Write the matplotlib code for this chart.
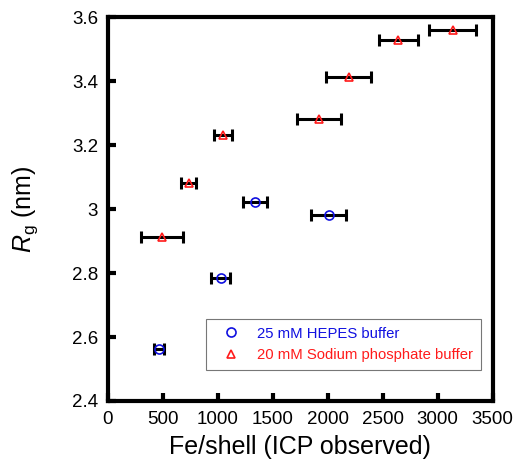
import numpy as np
import matplotlib

matplotlib.use("Agg")
import matplotlib.pyplot as plt
from matplotlib.ticker import FuncFormatter

plt.rcParams["font.family"] = ["Liberation Sans", "DejaVu Sans"]
plt.rcParams["mathtext.fontset"] = "custom"
plt.rcParams["mathtext.rm"] = "Liberation Sans"
plt.rcParams["mathtext.it"] = "Liberation Sans:italic"

# 25 mM HEPES buffer
hepes_x = [466, 1027, 1339, 2009]
hepes_xerr = [45, 86, 106, 162]
hepes_rg = [2.564, 2.784, 3.023, 2.983]

# 20 mM Sodium phosphate buffer
phos_x = [494, 736, 1048, 1924, 2194, 2642, 3136]
phos_xerr = [192, 68, 85, 200, 205, 178, 210]
phos_rg = [2.914, 3.082, 3.231, 3.281, 3.412, 3.530, 3.561]

x_ticks = [0, 500, 1000, 1500, 2000, 2500, 3000, 3500]
y_ticks = [2.4, 2.6, 2.8, 3.0, 3.2, 3.4, 3.6]

fig = plt.figure(figsize=(5.19, 4.69), dpi=100)
ax = fig.add_axes([0.2075, 0.145, 0.7415, 0.818])

eb = dict(fmt="none", ecolor="black", elinewidth=2.2, capsize=4.5, capthick=2.2, zorder=2)
ax.errorbar(hepes_x, hepes_rg, xerr=hepes_xerr, **eb)
ax.errorbar(phos_x, phos_rg, xerr=phos_xerr, **eb)

ax.plot(hepes_x, hepes_rg, "o", ms=6.5, mfc="none", mec="#1010e0", mew=1.2,
        ls="none", label="25 mM HEPES buffer", zorder=3)
ax.plot(phos_x, phos_rg, "^", ms=5.5, mfc="none", mec="#ff1a1a", mew=1.2,
        ls="none", label="20 mM Sodium phosphate buffer", zorder=3)

ax.set_xlim(0, 3500)
ax.set_ylim(2.4, 3.6)
ax.set_xticks(x_ticks)
ax.set_yticks(y_ticks)
ax.yaxis.set_major_formatter(FuncFormatter(lambda v, p: f"{v:g}"))
ax.tick_params(direction="in", length=6, width=3, labelsize=13.5, pad=7,
               top=False, right=False)

for s in ax.spines.values():
    s.set_linewidth(3)

ax.set_xlabel("Fe/shell (ICP observed)", fontsize=18, labelpad=5)
ax.set_ylabel(r"$\mathit{R}_{\mathrm{g}}$ (nm)", fontsize=18, labelpad=23)

leg = ax.legend(loc="lower right", bbox_to_anchor=(0.97, 0.08), fontsize=10.7,
                frameon=True, fancybox=False, edgecolor="#555555",
                handlelength=2.3, handletextpad=0.6, borderpad=0.55,
                labelspacing=0.5, borderaxespad=0)
leg.get_frame().set_linewidth(0.8)
for txt, col in zip(leg.get_texts(), ["#1010e0", "#ff1a1a"]):
    txt.set_color(col)

fig.savefig("out.png", dpi=100)
